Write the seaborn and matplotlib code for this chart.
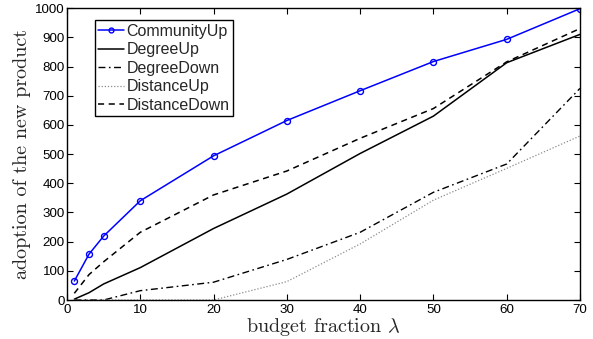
import matplotlib
matplotlib.use("Agg")
import matplotlib.pyplot as plt
import seaborn as sns
import pandas as pd

# budget fraction (percent) and adoption counts for each seeding strategy
budget = [1, 3, 5, 10, 20, 30, 40, 50, 60, 70]
community_up = [65, 157, 219, 340, 494, 615, 717, 817, 893, 998]
degree_up = [3, 25, 55, 111, 245, 363, 502, 630, 813, 910]
degree_down = [0, 0, 0, 32, 61, 139, 232, 369, 466, 725]
distance_up = [0, 0, 0, 0, 0, 63, 192, 342, 451, 562]
distance_down = [23, 87, 131, 232, 360, 442, 554, 656, 816, 930]

x_ticks = [0, 10, 20, 30, 40, 50, 60, 70]
y_ticks = [0, 100, 200, 300, 400, 500, 600, 700, 800, 900, 1000]

sns.set_style("ticks")
plt.rcParams.update({
    "font.family": ["Liberation Sans", "DejaVu Sans"],
    "mathtext.fontset": "cm",
    "xtick.direction": "in",
    "ytick.direction": "in",
    "xtick.top": True,
    "ytick.right": True,
    "axes.edgecolor": "black",
    "axes.linewidth": 1.0,
})

df = pd.DataFrame({
    "budget": budget,
    "CommunityUp": community_up,
    "DegreeUp": degree_up,
    "DegreeDown": degree_down,
    "DistanceUp": distance_up,
    "DistanceDown": distance_down,
})

fig = plt.figure(figsize=(5.93, 3.39), dpi=100)
ax = fig.add_axes([0.113, 0.115, 0.865, 0.861])

styles = {
    "CommunityUp": dict(color="#0000ff", linestyle="-", marker="o", markersize=4.3,
                        markerfacecolor="none", markeredgecolor="#0000ff",
                        markeredgewidth=1.0, linewidth=1.1),
    "DegreeUp": dict(color="black", linestyle="-", linewidth=1.1),
    "DegreeDown": dict(color="black", linestyle=(0, (5, 2.5, 1.2, 2.5)), linewidth=1.0),
    "DistanceUp": dict(color="0.55", linestyle=(0, (1, 1.5)), linewidth=0.9),
    "DistanceDown": dict(color="black", linestyle=(0, (4, 3)), linewidth=1.1),
}

for name, kw in styles.items():
    sns.lineplot(data=df, x="budget", y=name, ax=ax, label=name, **kw)

ax.set_xlim(0, 70)
ax.set_ylim(0, 1000)
ax.set_xticks(x_ticks)
ax.set_yticks(y_ticks)
ax.tick_params(axis="both", labelsize=9.6, length=4, width=0.8, colors="black")
ax.tick_params(axis="x", pad=3)
ax.tick_params(axis="y", pad=1.5)

label_font = dict(family=["cmr10", "DejaVu Serif"], size=14.5)
ax.set_xlabel(r"budget fraction $\lambda$", fontdict=label_font, labelpad=0)
ax.set_ylabel("adoption of the new product", fontdict=label_font, labelpad=3)

leg = ax.legend(loc="upper left", bbox_to_anchor=(0.055, 0.958), borderaxespad=0,
                fontsize=11.5, frameon=True, fancybox=False, handlelength=1.6,
                handletextpad=0.15, labelspacing=0.22, borderpad=0.2)
leg.get_frame().set_edgecolor("black")
leg.get_frame().set_linewidth(1.0)
leg.get_frame().set_alpha(1)
for h in leg.legend_handles:
    if h.get_marker() not in (None, "None", ""):
        h.set_markersize(3.5)

fig.savefig("out.png", dpi=100)
